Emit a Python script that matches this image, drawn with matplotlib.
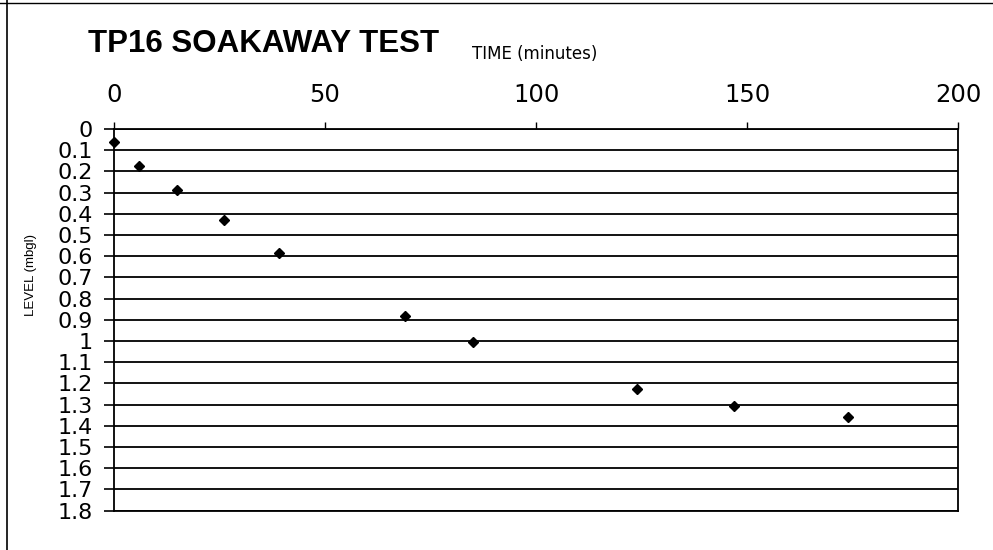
import matplotlib
matplotlib.use("Agg")
import matplotlib.pyplot as plt
from matplotlib.lines import Line2D

plt.rcParams['font.family'] = ['Liberation Sans', 'DejaVu Sans']

time_min = [0, 6, 15, 26, 39, 69, 85, 124, 147, 174]
level_mbgl = [0.06, 0.175, 0.288, 0.43, 0.587, 0.88, 1.003, 1.226, 1.307, 1.36]
x_ticks = [0, 50, 100, 150, 200]
y_ticks = [round(0.1 * i, 1) for i in range(19)]
y_labels = ['0', '0.1', '0.2', '0.3', '0.4', '0.5', '0.6', '0.7', '0.8', '0.9',
            '1', '1.1', '1.2', '1.3', '1.4', '1.5', '1.6', '1.7', '1.8']

fig = plt.figure(figsize=(9.93, 5.50), dpi=100)
ax = fig.add_axes([114/993, 1 - 510.7/550, (958-114)/993, (510.7-129)/550])

ax.plot(time_min, level_mbgl, linestyle='none', marker='D', color='black',
        markersize=5.5, zorder=5, clip_on=False)

ax.set_xlim(0, 200)
ax.set_ylim(1.8, 0)
ax.xaxis.tick_top()
ax.set_xticks(x_ticks)
ax.set_xticklabels([str(v) for v in x_ticks], fontsize=17.5, family='DejaVu Sans')
ax.set_yticks(y_ticks)
ax.set_yticklabels(y_labels, fontsize=16, family='DejaVu Sans')
ax.tick_params(axis='x', direction='out', length=5, width=1, pad=11)
ax.tick_params(axis='y', direction='out', length=7, width=1.2, pad=8)

ax.grid(axis='y', color='black', linewidth=1.3)
ax.grid(axis='x', visible=False)
for s in ax.spines.values():
    s.set_color('black')
    s.set_linewidth(1.3)

ax.set_ylabel('LEVEL (mbgl)', fontsize=9.5)
ax.yaxis.set_label_coords(-0.091, 0.617)

fig.text(88/993, 1 - 44/550, 'TP16 SOAKAWAY TEST', fontsize=22.5, fontweight='bold',
         ha='left', va='center')
fig.text(472/993, 1 - 54/550, 'TIME (minutes)', fontsize=12, family='DejaVu Sans',
         ha='left', va='center')

# scan frame lines
fig.add_artist(Line2D([7/993, 7/993], [0, 1], color='black', linewidth=1.2,
                      transform=fig.transFigure))
fig.add_artist(Line2D([0, 1], [1 - 3/550, 1 - 3/550], color='black', linewidth=1.0,
                      transform=fig.transFigure))

fig.savefig('out.png', dpi=100)
